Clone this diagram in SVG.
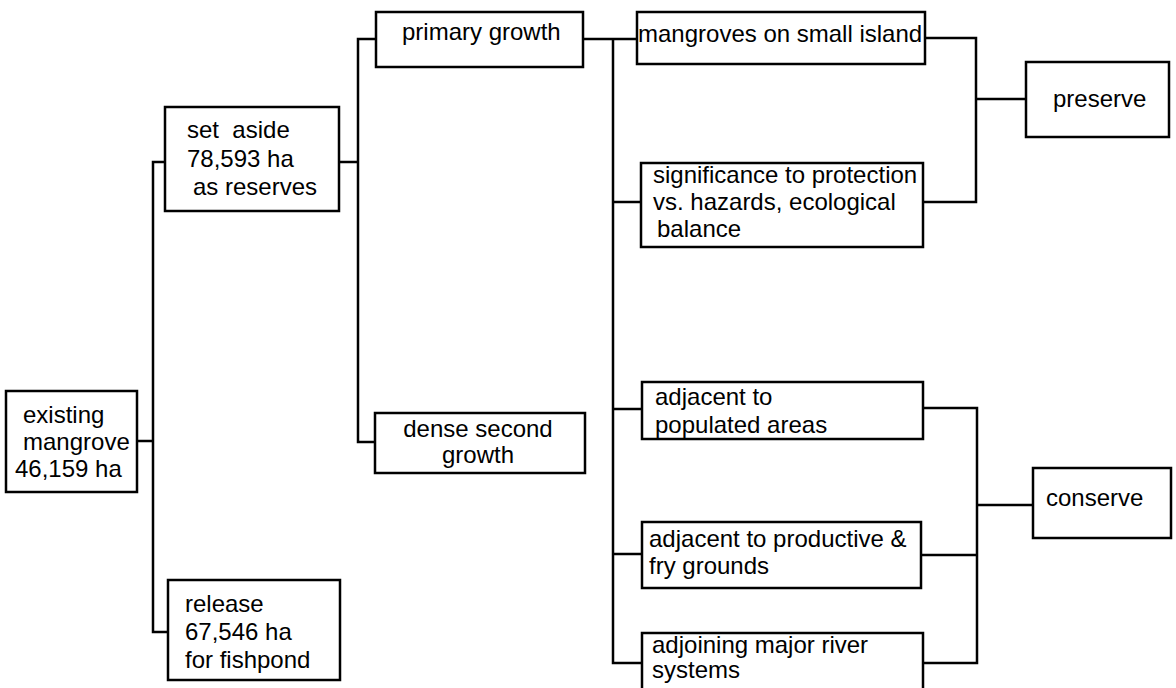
<svg xmlns="http://www.w3.org/2000/svg" width="1176" height="688" viewBox="0 0 1176 688">
<style>
.box{fill:#fff;stroke:#000;stroke-width:2.5}
.t{font-family:"Liberation Sans",Arial,sans-serif;font-size:24px;fill:#000}
.c{fill:none;stroke:#000;stroke-width:2.5;stroke-linecap:square}
</style>
<rect width="1176" height="688" fill="#fff"/>
<g id="connectors">
<path class="c" d="M137,441 H153 M153,162 V632 M153,162 H165 M153,632 H168"/>
<path class="c" d="M339,162 H358 M358,39 V442 M358,39 H376 M358,442 H375"/>
<path class="c" d="M583,39 H637 M613,39 V663 M613,202 H641 M613,409 H642 M613,554 H642 M613,663 H642"/>
<path class="c" d="M925,38 H976 V202 H923 M976,99 H1026"/>
<path class="c" d="M923,408 H977 V663 H923 M921,555 H977 M977,505 H1033"/>
</g>
<g id="existing">
<rect class="box" x="6" y="391" width="131" height="101"/>
<text class="t" x="23" y="423">existing</text>
<text class="t" x="23" y="450">mangrove</text>
<text class="t" x="15" y="477">46,159 ha</text>
</g>
<g id="setaside">
<rect class="box" x="165" y="107" width="174" height="104"/>
<text class="t" x="187" y="138" xml:space="preserve">set  aside</text>
<text class="t" x="187" y="167">78,593 ha</text>
<text class="t" x="193" y="195">as reserves</text>
</g>
<g id="release">
<rect class="box" x="168" y="580" width="172" height="100"/>
<text class="t" x="185" y="612">release</text>
<text class="t" x="185" y="640">67,546 ha</text>
<text class="t" x="185" y="668">for fishpond</text>
</g>
<g id="primary">
<rect class="box" x="376" y="12" width="207" height="55"/>
<text class="t" x="402" y="40">primary growth</text>
</g>
<g id="dense">
<rect class="box" x="375" y="413" width="210" height="60"/>
<text class="t" x="478" y="437" text-anchor="middle">dense second</text>
<text class="t" x="478" y="463" text-anchor="middle">growth</text>
</g>
<g id="mangroves">
<rect class="box" x="637" y="12" width="288" height="52"/>
<text class="t" x="638" y="42">mangroves on small island</text>
</g>
<g id="significance">
<rect class="box" x="641" y="163" width="282" height="84"/>
<text class="t" x="653" y="183">significance to protection</text>
<text class="t" x="653" y="210">vs. hazards, ecological</text>
<text class="t" x="657" y="237">balance</text>
</g>
<g id="populated">
<rect class="box" x="642" y="382" width="281" height="57"/>
<text class="t" x="655" y="405">adjacent to</text>
<text class="t" x="655" y="433">populated areas</text>
</g>
<g id="productive">
<rect class="box" x="642" y="522" width="279" height="66"/>
<text class="t" x="649" y="547">adjacent to productive &amp;</text>
<text class="t" x="649" y="574">fry grounds</text>
</g>
<g id="adjoining">
<rect class="box" x="642" y="633" width="281" height="62"/>
<text class="t" x="652" y="653">adjoining major river</text>
<text class="t" x="652" y="678">systems</text>
</g>
<g id="preserve">
<rect class="box" x="1026" y="62" width="143" height="75"/>
<text class="t" x="1053" y="107">preserve</text>
</g>
<g id="conserve">
<rect class="box" x="1033" y="468" width="138" height="70"/>
<text class="t" x="1046" y="506">conserve</text>
</g>
</svg>
